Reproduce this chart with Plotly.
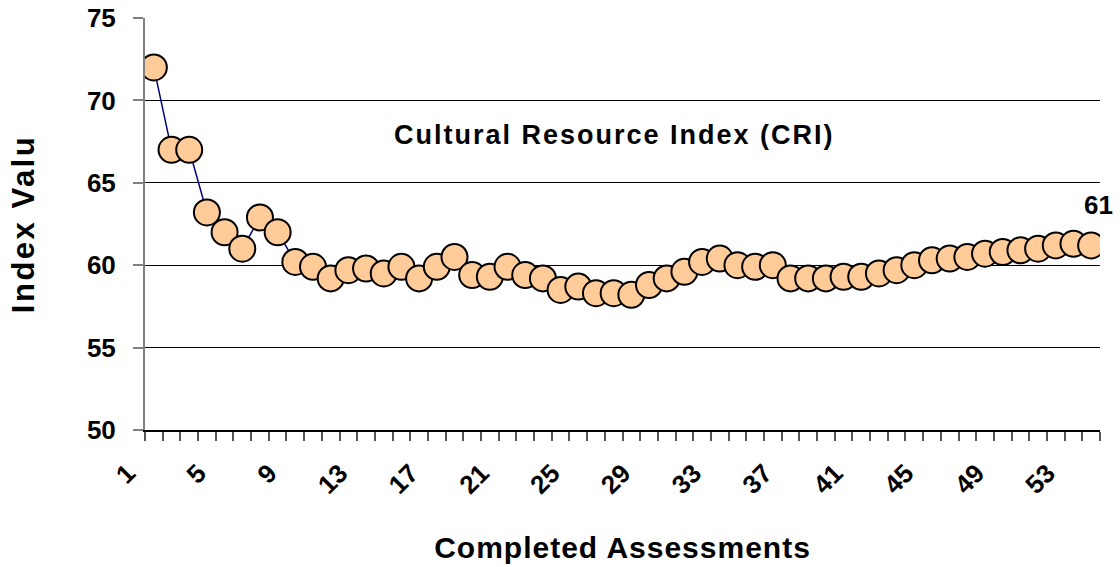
import plotly.graph_objects as go

assessments = list(range(1, 55))
cri_values = [
    72.0, 67.0, 67.0, 63.2, 62.0, 61.0, 62.9, 62.0, 60.2, 59.9,
    59.2, 59.7, 59.8, 59.5, 59.9, 59.2, 59.9, 60.5, 59.4, 59.3,
    59.9, 59.4, 59.2, 58.5, 58.7, 58.3, 58.3, 58.2, 58.8, 59.2,
    59.6, 60.2, 60.4, 60.0, 59.9, 60.0, 59.2, 59.2, 59.2, 59.3,
    59.3, 59.5, 59.7, 60.0, 60.3, 60.4, 60.5, 60.7, 60.8, 60.9,
    61.0, 61.2, 61.3, 61.2,
]
x_tick_vals = list(range(1, 55, 4))
x_tick_text = [str(v) for v in x_tick_vals]
y_tick_vals = [50, 55, 60, 65, 70, 75]
last_label = "61"

chart_title = "Cultural Resource Index (CRI)"
x_title = "Completed Assessments"
y_title = "Index Valu"

FONT = "Liberation Sans, Arial, sans-serif"


def spaced(text, px):
    return f'<span style="letter-spacing:{px}px">{text}</span>'


fig = go.Figure()
fig.add_trace(go.Scatter(
    x=assessments, y=cri_values, mode="lines+markers",
    line=dict(color="#000080", width=1.5),
    marker=dict(size=26, color="#FFCC99", line=dict(color="black", width=2)),
    showlegend=False, hoverinfo="x+y",
))

fig.add_annotation(
    x=assessments[-1], y=cri_values[-1], xref="x", yref="y",
    text=last_label, showarrow=False, xshift=7, yshift=40,
    font=dict(family=FONT, size=26, color="black", weight="bold"),
)
fig.add_annotation(
    x=0.492, y=0.716, xref="paper", yref="paper", xanchor="center", yanchor="middle",
    text=spaced(chart_title, 2), showarrow=False,
    font=dict(family=FONT, size=27, color="black", weight="bold"),
)

fig.update_layout(
    width=1120, height=567,
    margin=dict(l=145, r=20, t=18, b=137, autoexpand=False),
    paper_bgcolor="white", plot_bgcolor="white",
    font=dict(family=FONT, color="black"),
)
fig.update_xaxes(
    range=[0.5, 54.5], tickmode="array", tickvals=x_tick_vals, ticktext=x_tick_text,
    tickangle=-45, ticks="", ticklabelshift=-26, ticklabelstandoff=16,
    tickfont=dict(family=FONT, size=26, color="black", weight="bold"),
    minor=dict(ticks="outside", tick0=0.5, dtick=1, ticklen=9, tickcolor="#555555", tickwidth=1.5, showgrid=False),
    showline=True, linecolor="black", linewidth=1.5, showgrid=False, zeroline=False,
    title=dict(text=spaced(x_title, 1), font=dict(family=FONT, size=30, color="black", weight="bold"), standoff=38),
    automargin=False,
)
fig.update_yaxes(
    range=[50, 75], tickmode="array", tickvals=y_tick_vals,
    ticks="outside", ticklen=10, tickcolor="#808080", tickwidth=1.5,
    ticklabelstandoff=12, ticklabeloverflow="allow",
    tickfont=dict(family=FONT, size=26, color="black", weight="bold"),
    showline=True, linecolor="#808080", linewidth=2,
    showgrid=True, gridcolor="black", gridwidth=1, zeroline=False,
    title=dict(text=spaced(y_title, 2.5), font=dict(family=FONT, size=31, color="black", weight="bold"), standoff=43),
    automargin=False,
)

# remove the browser's default 8px body margin so the figure fills the window
fig.write_html("out.html", config={"displayModeBar": False},
               post_script="document.body.style.margin='0';")
